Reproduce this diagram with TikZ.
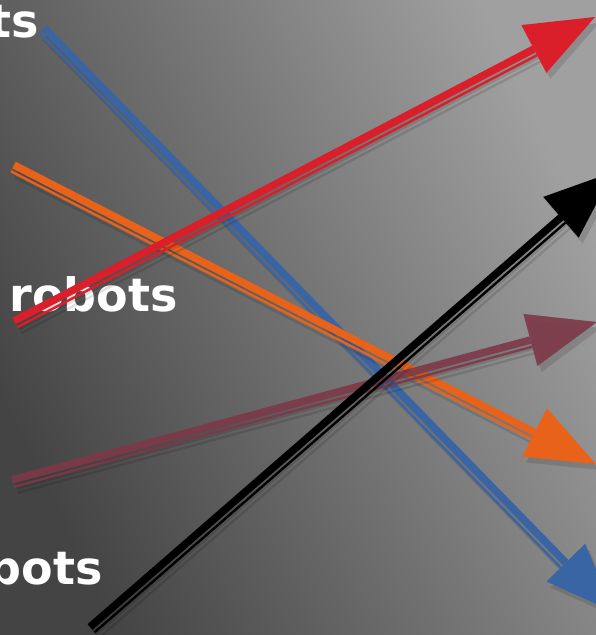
\documentclass[tikz,border=0pt]{standalone}
\usepackage{fontspec}
\setmainfont{DejaVu Sans}
\usetikzlibrary{calc}
\definecolor{cblue}{HTML}{3A65A5}
\definecolor{corange}{HTML}{E8621A}
\definecolor{cred}{HTML}{DA1E2A}
\definecolor{cmaroon}{HTML}{7E3848}
\definecolor{bgtop}{HTML}{A0A0A0}
\definecolor{bgbot}{HTML}{444444}
\tikzset{
  txt/.style={inner sep=0pt, text=white, font=\fontsize{46}{52}\selectfont\bfseries},
  shadowstyle/.style={black, opacity=0.12}
}
\newcommand\arrowbody[2]{%
  \coordinate (#1m) at ($(#1h)!69pt!(#1t)$);
  \fill[#2] (#1h) -- ($(#1m)!27pt!90:(#1h)$) -- ($(#1m)!27pt!-90:(#1h)$) -- cycle;
  \draw[#2, line width=7.5pt] (#1t) -- (#1m);
  \draw[#2, line width=2.4pt] ($(#1t)!7pt!-90:(#1h)$) -- ($(#1m)!7pt!90:(#1t)$);
}
\newcommand\onearrow[4]{%
  \coordinate (#1t) at #3;
  \coordinate (#1h) at #4;
  \coordinate (#1st) at ($(#1t)+(4,6)$);
  \coordinate (#1sh) at ($(#1h)+(4,6)$);
  \arrowbody{#1s}{shadowstyle}
  \arrowbody{#1}{#2}
}
\begin{document}
\begin{tikzpicture}[x=1pt,y=-1pt]
\useasboundingbox (0,0) rectangle (596,635);
\shade[shading=axis, top color=bgtop, bottom color=bgbot, shading angle=-64] (0,0) rectangle (596,635);
\clip (0,0) rectangle (596,635);
% texts
\node[txt, anchor=base east] (ts) at (39,37) {ts};
\node[txt, anchor=base east] (rob) at (178,311) {robots};
\node[txt, anchor=base east] (bot) at (103,584) {bots};
% arrows
\onearrow{b}{cblue}{(44,28)}{(614,612)}
\onearrow{o}{corange}{(14,165)}{(596,464)}
\onearrow{r}{cred}{(14,321)}{(595,17)}
\onearrow{m}{cmaroon,opacity=0.9}{(12,480)}{(597,322)}
\onearrow{k}{black}{(90,627)}{(613,172)}
\end{tikzpicture}
\end{document}
